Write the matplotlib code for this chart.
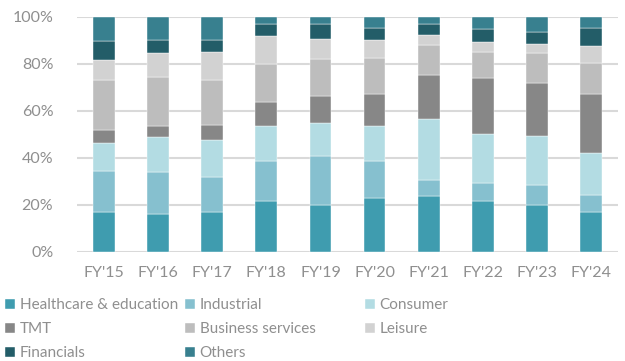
import matplotlib.pyplot as plt
import numpy as np

years = ["FY'15", "FY'16", "FY'17", "FY'18", "FY'19", "FY'20", "FY'21", "FY'22", "FY'23", "FY'24"]

healthcare = [17.0, 16.1, 17.2, 21.8, 20.1, 22.9, 24.0, 21.5, 19.8, 16.8]
industrial = [17.6, 17.9, 14.5, 17.0, 20.9, 15.6, 6.7, 8.0, 8.5, 7.5]
consumer = [11.7, 14.8, 16.0, 14.9, 13.8, 15.1, 25.8, 20.7, 21.2, 17.7]
tmt = [5.7, 4.9, 6.3, 10.0, 11.7, 13.6, 18.8, 23.9, 22.5, 25.2]
business = [21.1, 20.8, 19.1, 16.1, 15.5, 15.4, 12.7, 11.0, 12.5, 13.3]
leisure = [8.6, 10.0, 11.8, 12.1, 8.8, 7.8, 4.5, 4.3, 3.9, 7.2]
financials = [8.1, 5.6, 5.2, 4.9, 6.0, 4.9, 4.7, 5.3, 5.0, 7.8]
others = [10.2, 9.9, 9.9, 3.2, 3.2, 4.7, 2.8, 5.3, 6.6, 4.5]

names = ["Healthcare & education", "Industrial", "Consumer", "TMT",
         "Business services", "Leisure", "Financials", "Others"]
series = [healthcare, industrial, consumer, tmt, business, leisure, financials, others]
colors = ["#3F9CAF", "#86C0CF", "#B3DCE3", "#878787",
          "#BDBDBD", "#D2D2D2", "#235D68", "#38808F"]

txt = "#8F8F8F"
plt.rcParams['font.family'] = ['Lato', 'DejaVu Sans']

fig = plt.figure(figsize=(6.25, 3.61), dpi=100)
ax = fig.add_axes([0.123, 0.302, 0.866, 0.651])

x = np.arange(len(years))
bottom = np.zeros(len(years))
handles = []
for vals, name, c in zip(series, names, colors):
    v = np.array(vals)
    b = ax.bar(x, v, 0.4, bottom=bottom, color=c, label=name, zorder=3,
               edgecolor='white', linewidth=0.3)
    handles.append(b)
    bottom += v

ax.set_xlim(-0.5, len(years) - 0.5)
ax.set_ylim(0, 100)
ax.set_yticks(np.arange(0, 101, 20))
ax.set_yticklabels([f"{t}%" for t in range(0, 101, 20)])
ax.set_xticks(x)
ax.set_xticklabels(years)
ax.yaxis.grid(True, color='#D9D9D9', linewidth=1.5, zorder=0)
for s in ax.spines.values():
    s.set_visible(False)
ax.tick_params(length=0, labelsize=11.5, colors=txt)
ax.tick_params(axis='y', pad=17)
ax.tick_params(axis='x', pad=10)

cols = [[0, 3, 6], [1, 4, 7], [2, 5]]
xs = [0.008, 0.296, 0.584]
for xpos, idx in zip(xs, cols):
    lg = fig.legend([handles[i] for i in idx], [names[i] for i in idx],
                    loc='upper left', bbox_to_anchor=(xpos, 0.174), frameon=False,
                    fontsize=11, handlelength=0.65, handleheight=0.65,
                    handletextpad=0.3, labelspacing=0.65, borderaxespad=0,
                    borderpad=0)
    for t in lg.get_texts():
        t.set_color(txt)

fig.savefig("out.png", dpi=100)
